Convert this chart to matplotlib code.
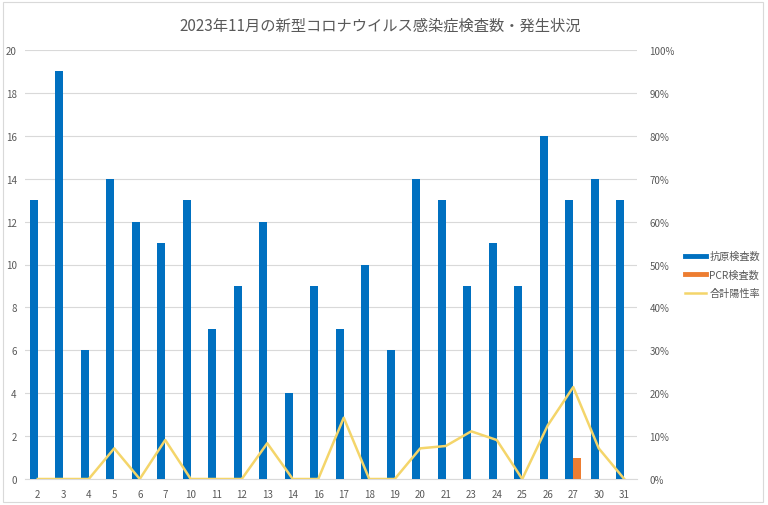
"""2023年11月の新型コロナウイルス感染症検査数・発生状況のグラフを作成する。"""

import numpy as np
import matplotlib
matplotlib.use('Agg')
import matplotlib.pyplot as plt
from matplotlib.patches import Rectangle

plt.rcParams['font.family'] = ['Noto Sans CJK JP', 'DejaVu Sans']

days = ["2", "3", "4", "5", "6", "7", "10", "11", "12", "13", "14", "16",
        "17", "18", "19", "20", "21", "23", "24", "25", "26", "27", "30", "31"]
antigen = [13, 19, 6, 14, 12, 11, 13, 7, 9, 12, 4, 9,
           7, 10, 6, 14, 13, 9, 11, 9, 16, 13, 14, 13]
pcr = [0, 0, 0, 0, 0, 0, 0, 0, 0, 0, 0, 0,
       0, 0, 0, 0, 0, 0, 0, 0, 0, 1, 0, 0]
positive = [0, 0, 0, 1, 0, 1, 0, 0, 0, 1, 0, 0,
            1, 0, 0, 1, 1, 1, 1, 0, 2, 3, 1, 0]

BLUE = "#0070C0"
ORANGE = "#ED7D31"
GOLD = "#F4D56A"
GRAY = "#595959"
GRID = "#D9D9D9"


def main():
    total = np.array(antigen) + np.array(pcr)
    rate = np.array(positive) / total

    fig = plt.figure(figsize=(7.68, 5.06), dpi=100)
    fig.patches.append(Rectangle((0.004, 0.006), 0.99, 0.988, transform=fig.transFigure,
                                 fill=False, edgecolor="#D9D9D9", linewidth=0.8))
    ax = fig.add_axes([25 / 768, 26 / 506, 612 / 768, 429 / 506])
    ax2 = ax.twinx()

    x = np.arange(len(days))
    w = 0.31
    ax.bar(x - w / 2, antigen, width=w, color=BLUE, label="抗原検査数", zorder=3)
    ax.bar(x + w / 2, pcr, width=w, color=ORANGE, label="PCR検査数", zorder=3)
    ax2.plot(x, rate, color=GOLD, linewidth=1.8, label="合計陽性率", zorder=4)

    ax.set_xlim(-0.5, len(days) - 0.5)
    ax.set_ylim(0, 20)
    ax.set_yticks(range(0, 21, 2))
    ax.set_xticks(x)
    ax.set_xticklabels(days)
    ax2.set_ylim(0, 1)
    ax2.set_yticks(np.arange(0, 1.01, 0.1))
    ax2.set_yticklabels([f"{int(round(v * 100))}%" for v in np.arange(0, 1.01, 0.1)])

    ax.yaxis.grid(True, color=GRID, linewidth=0.8, zorder=0)
    ax.set_axisbelow(True)
    for a in (ax, ax2):
        for s in a.spines.values():
            s.set_visible(False)
        a.tick_params(length=0, labelsize=7, colors=GRAY)
    ax.spines["bottom"].set_visible(True)
    ax.spines["bottom"].set_color(GRID)
    ax.tick_params(axis="y", pad=6)
    ax.tick_params(axis="x", pad=7)
    ax2.tick_params(axis="y", pad=9)

    fig.text(0.495, 0.948, "2023年11月の新型コロナウイルス感染症検査数・発生状況",
             ha="center", va="center", fontsize=11, color=GRAY)

    labels = ["抗原検査数", "PCR検査数", "合計陽性率"]
    handles = [plt.Line2D([], [], color=BLUE, linewidth=3.5),
               plt.Line2D([], [], color=ORANGE, linewidth=3.5),
               plt.Line2D([], [], color=GOLD, linewidth=1.8)]
    fig.legend(handles, labels, loc="center left", bbox_to_anchor=(0.880, 0.455),
               frameon=False, fontsize=7.3, handlelength=2.1, handletextpad=0.3,
               labelspacing=0.85, labelcolor=GRAY)

    plt.savefig("out.png", dpi=100)
    plt.close()


if __name__ == "__main__":
    main()
